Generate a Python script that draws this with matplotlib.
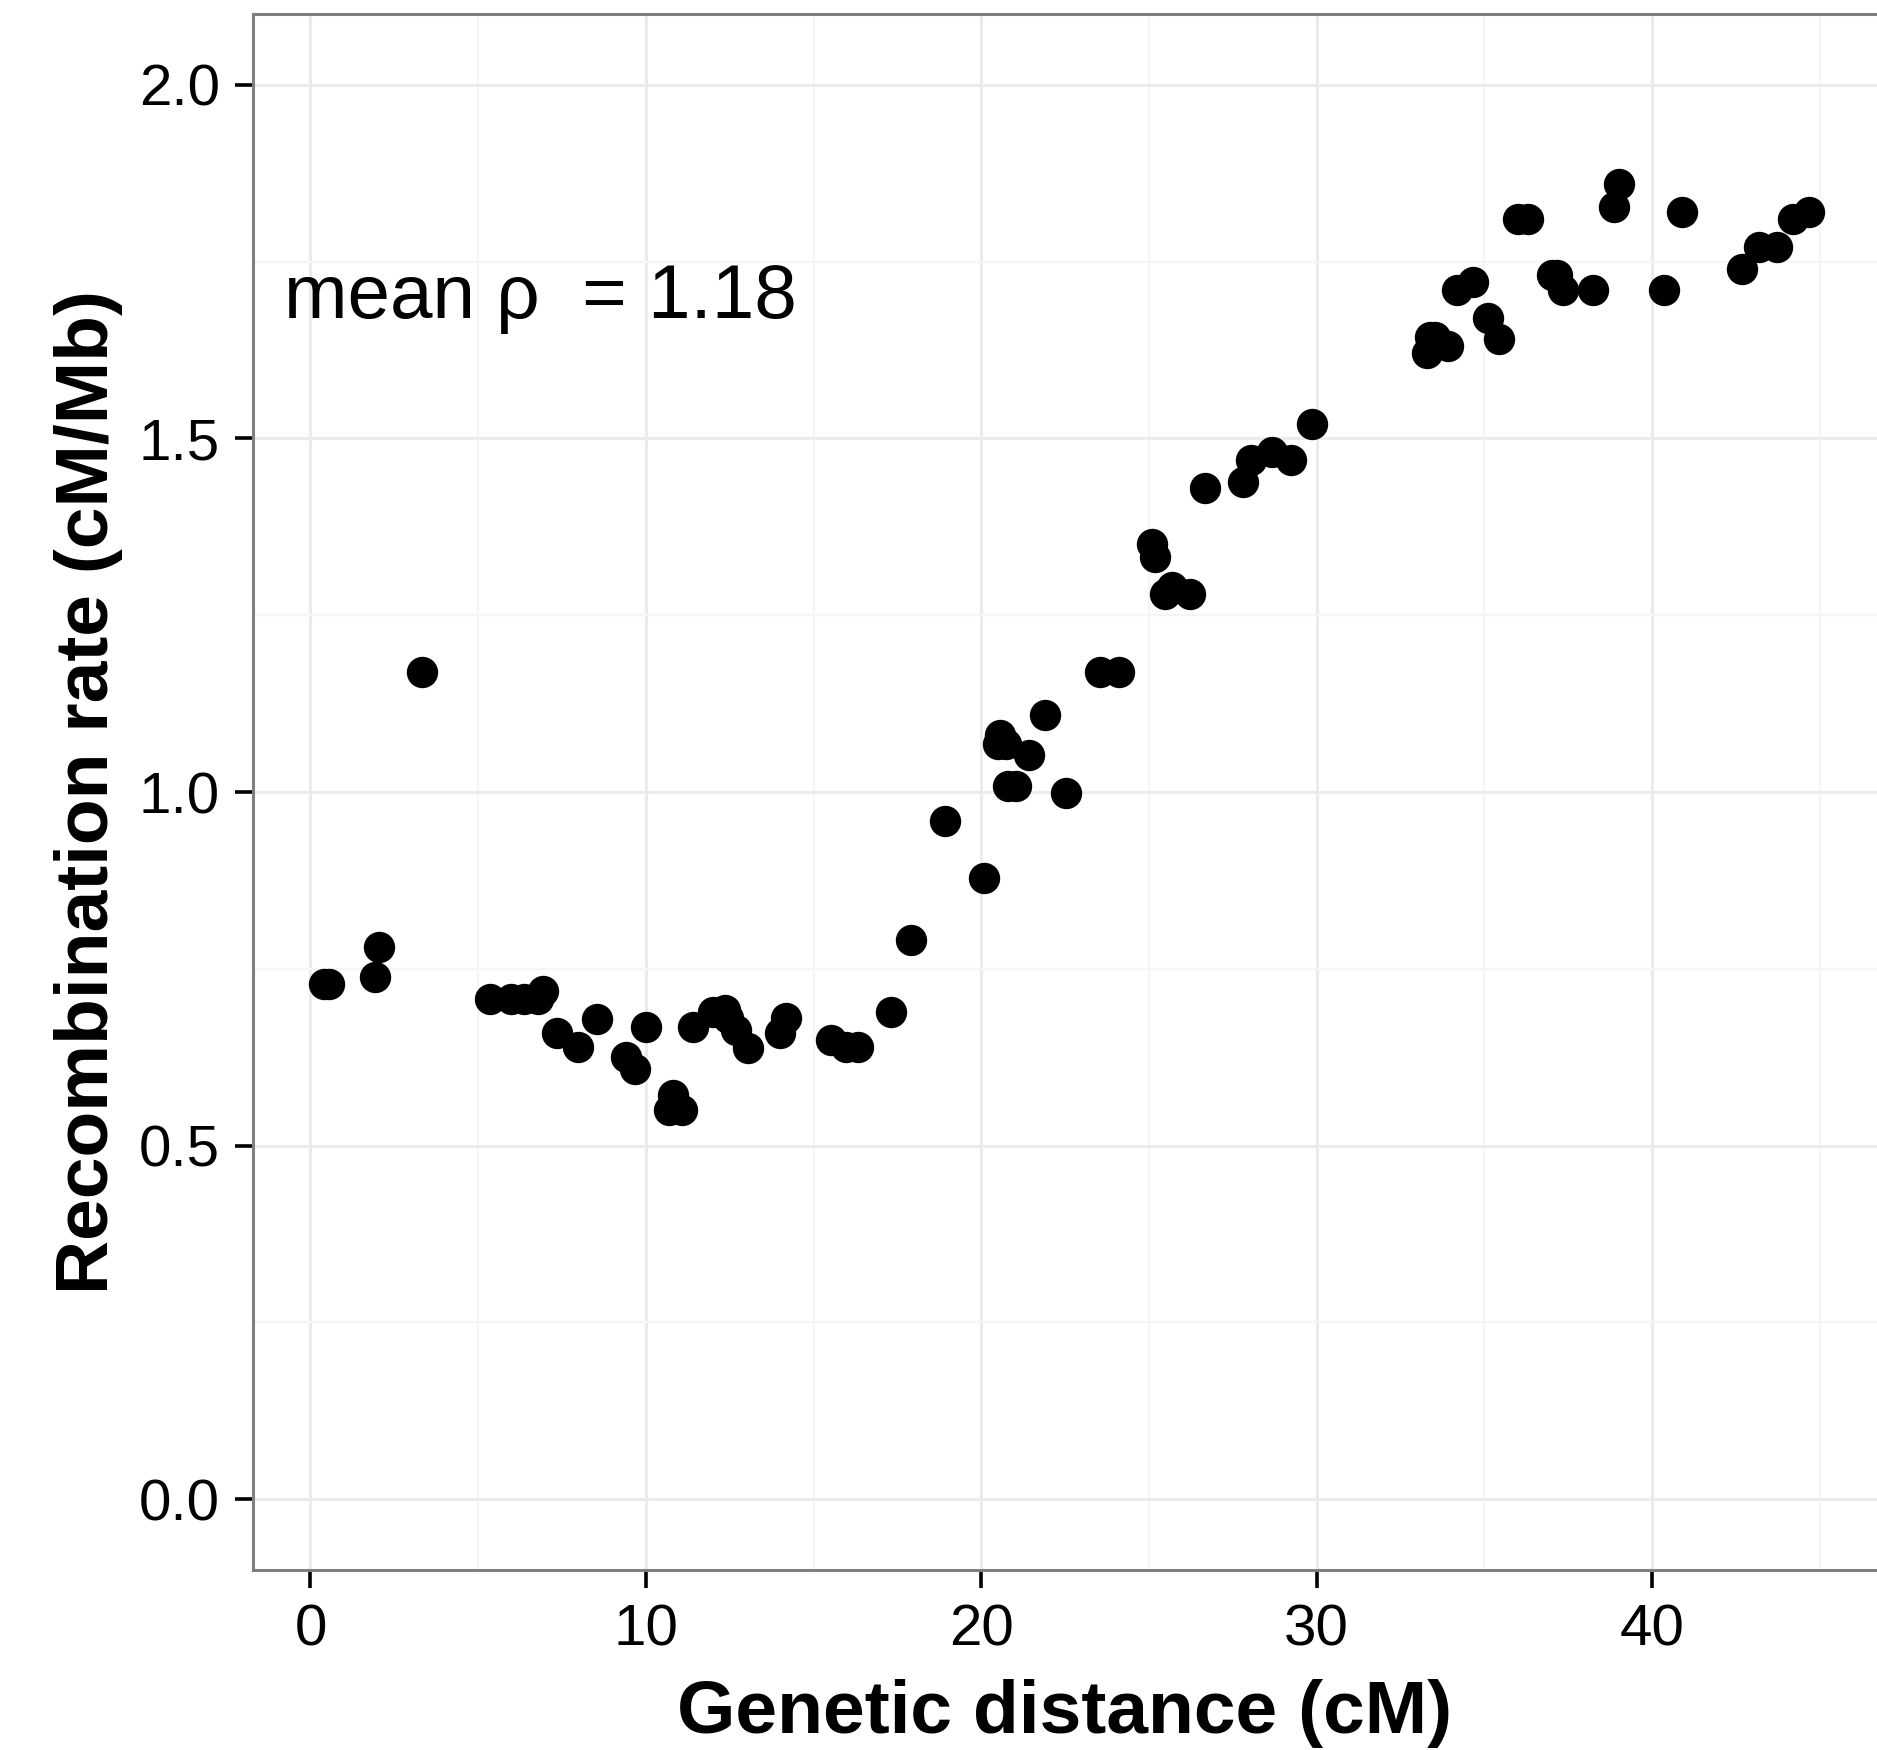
import matplotlib
matplotlib.use("Agg")
import matplotlib.pyplot as plt
import numpy as np

plt.rcParams['font.family'] = ['Liberation Sans', 'DejaVu Sans']

genetic_distance = [0.39, 0.54, 1.91, 2.05, 3.32, 5.34, 5.98, 6.38, 6.78, 6.93,
                    7.35, 7.98, 8.54, 9.41, 9.69, 9.99, 10.80, 10.70, 11.08, 11.42,
                    12.00, 12.35, 12.46, 12.69, 13.04, 13.99, 14.19, 15.53, 15.98, 16.33,
                    17.32, 17.91, 18.92, 20.08, 20.55, 20.50, 20.75, 21.43, 20.80, 21.05,
                    21.89, 22.54, 23.54, 24.11, 25.08, 25.18, 25.68, 25.48, 26.22, 26.68,
                    27.81, 28.03, 28.66, 29.23, 29.87, 33.28, 33.38, 33.53, 33.93, 34.20,
                    34.65, 35.12, 35.45, 36.01, 36.31, 37.01, 37.16, 37.36, 38.23, 38.87,
                    39.03, 40.36, 40.90, 42.69, 43.18, 43.73, 44.22, 44.69]
recomb_rate = [0.729, 0.729, 0.739, 0.781, 1.170, 0.708, 0.708, 0.708, 0.708, 0.719,
               0.659, 0.639, 0.679, 0.626, 0.608, 0.668, 0.572, 0.550, 0.550, 0.668,
               0.689, 0.692, 0.680, 0.664, 0.638, 0.659, 0.680, 0.650, 0.640, 0.639,
               0.689, 0.791, 0.959, 0.879, 1.080, 1.068, 1.068, 1.053, 1.009, 1.009,
               1.109, 0.999, 1.170, 1.170, 1.351, 1.332, 1.290, 1.280, 1.280, 1.430,
               1.439, 1.470, 1.481, 1.470, 1.520, 1.621, 1.643, 1.643, 1.630, 1.710,
               1.721, 1.670, 1.640, 1.810, 1.810, 1.731, 1.731, 1.710, 1.710, 1.827,
               1.860, 1.710, 1.820, 1.739, 1.770, 1.770, 1.810, 1.820]

x_major = [0, 10, 20, 30, 40]
x_minor = [5, 15, 25, 35, 45]
y_major = [0.0, 0.5, 1.0, 1.5, 2.0]
y_minor = [0.25, 0.75, 1.25, 1.75]
x_ticklabels = ["0", "10", "20", "30", "40"]
y_ticklabels = ["0.0", "0.5", "1.0", "1.5", "2.0"]
annotation = "mean ρ  = 1.18"
xlabel = "Genetic distance (cM)"
ylabel = "Recombination rate (cM/Mb)"

W, H = 1877, 1750
fig = plt.figure(figsize=(W / 100, H / 100), dpi=100)
left, right, bottom, top = 253 / W, 1.0, 1 - 1570 / H, 1 - 14 / H
ax = fig.add_axes([left, bottom, right - left, top - bottom])

ax.set_xlim(-1.714, 46.71)
ax.set_ylim(-0.1, 2.1)

ax.set_xticks(x_major)
ax.set_xticklabels(x_ticklabels)
ax.set_yticks(y_major)
ax.set_yticklabels(y_ticklabels)
ax.set_xticks(x_minor, minor=True)
ax.set_yticks(y_minor, minor=True)

ax.grid(which='major', color='#EBEBEB', linewidth=2.2, zorder=0)
ax.grid(which='minor', color='#F5F5F5', linewidth=1.6, zorder=0)
ax.set_axisbelow(True)

ax.tick_params(which='major', length=13, width=2.6, color='black', pad=11,
               labelsize=42, labelcolor='black')
ax.tick_params(which='minor', length=0)

for side in ['left', 'bottom', 'top']:
    ax.spines[side].set_color('#7F7F7F')
    ax.spines[side].set_linewidth(2.2)
ax.spines['right'].set_visible(False)

ax.scatter(genetic_distance, recomb_rate, s=510, color='black', linewidths=0, zorder=3)

ax.text(-0.79, 1.67, annotation, fontsize=55, ha='left', va='baseline', color='black')

fig.text((253 + 1877) / 2 / W, 1 - 1733 / H, xlabel, fontsize=54, fontweight='bold',
         ha='center', va='baseline')
fig.text(108 / W, 1 - 792 / H, ylabel, fontsize=54, fontweight='bold', rotation=90,
         rotation_mode='anchor', ha='center', va='baseline')

fig.savefig("out.png", dpi=100)
